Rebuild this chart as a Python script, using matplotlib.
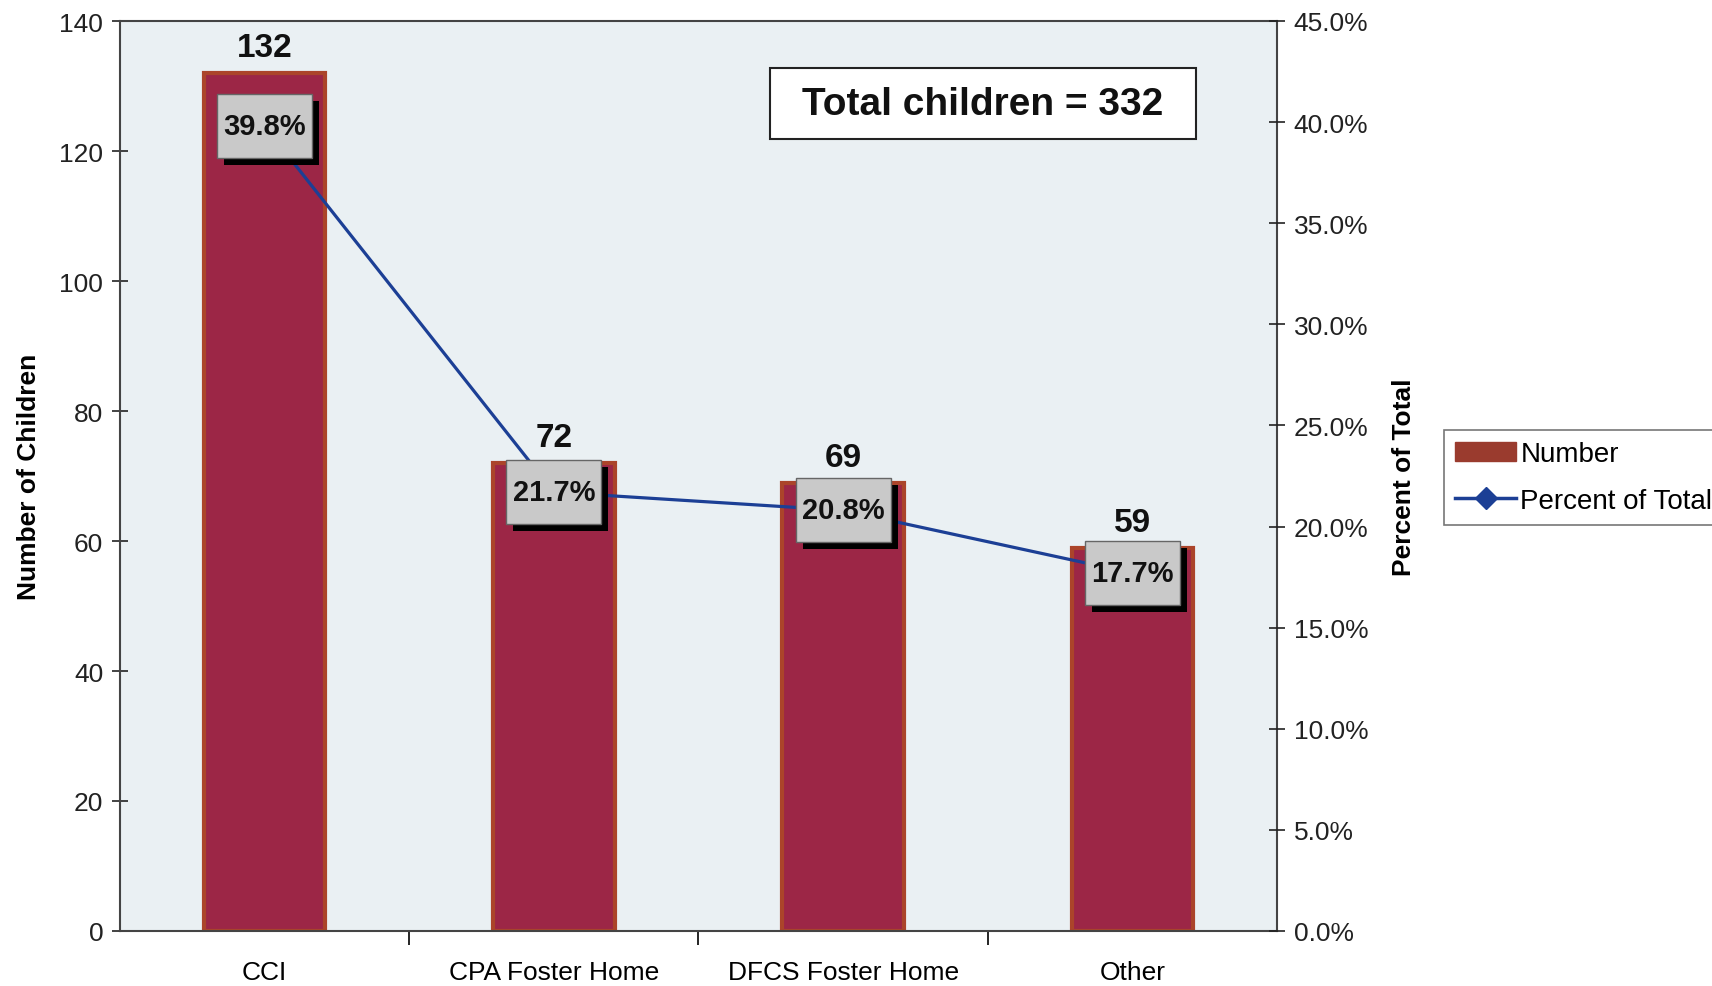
import matplotlib
matplotlib.use("Agg")
import matplotlib.pyplot as plt
from matplotlib.patches import Patch, Rectangle
from matplotlib.lines import Line2D
from matplotlib.ticker import FuncFormatter
from matplotlib.transforms import ScaledTranslation

categories = ["CCI", "CPA Foster Home", "DFCS Foster Home", "Other"]
counts = [132, 72, 69, 59]
percents = [39.8, 21.7, 20.8, 17.7]
total = 332

font = ["Liberation Sans", "DejaVu Sans"]


def main():
    fig = plt.figure(figsize=(17.12, 9.87), dpi=100)
    ax = fig.add_axes([120 / 1712, 55 / 987, 1157 / 1712, 910 / 987])
    ax.set_facecolor("#eaf0f3")

    x = list(range(len(categories)))
    ax.bar(x, counts, width=0.42, color="#9c2646", edgecolor="#ab442a",
           linewidth=3, zorder=2)
    ax.set_xlim(-0.5, 3.5)
    ax.set_ylim(0, 140)
    ax.set_yticks(range(0, 141, 20))
    ax.tick_params(axis="y", direction="inout", length=12, width=1.2,
                   labelsize=19, pad=6, colors="#222222")
    for lab in ax.get_yticklabels():
        lab.set_family(font)

    ax.set_xticks([0.5, 1.5, 2.5])
    ax.set_xticklabels([])
    ax.tick_params(axis="x", which="major", direction="out", length=10, width=1.2)
    ax.set_xticks(x, minor=True)
    ax.set_xticklabels(categories, minor=True, fontsize=19, family=font)
    ax.tick_params(axis="x", which="minor", length=0, pad=21)

    for s in ax.spines.values():
        s.set_color("#444444")
        s.set_linewidth(1.5)

    ax.set_ylabel("Number of Children", fontsize=19, fontweight="bold",
                  family=font, labelpad=13)

    for xi, c in zip(x, counts):
        ax.annotate(str(c), (xi, c), xytext=(0, 7), textcoords="offset points",
                    ha="center", va="bottom", fontsize=24, fontweight="bold",
                    family=font, color="#111111", zorder=5)

    ax2 = ax.twinx()
    ax2.set_ylim(0, 45)
    ax2.set_yticks(range(0, 46, 5))
    ax2.yaxis.set_major_formatter(FuncFormatter(lambda v, p: f"{v:.1f}%"))
    ax2.tick_params(axis="y", direction="inout", length=12, width=1.2,
                    labelsize=19, pad=6, colors="#222222")
    for lab in ax2.get_yticklabels():
        lab.set_family(font)
    for s in ax2.spines.values():
        s.set_visible(False)
    ax2.set_ylabel("Percent of Total", fontsize=19, fontweight="bold",
                   family=font, labelpad=17)

    ax2.plot(x, percents, color="#1c3f95", linewidth=2.3, marker="D",
             markersize=9, zorder=3)

    # gray label boxes (95x64 px) with a black drop shadow
    bw, bh, sh = 0.95, 0.64, 0.07
    for xi, p in zip(x, percents):
        tr = fig.dpi_scale_trans + ScaledTranslation(xi, p, ax2.transData)
        ax2.add_patch(Rectangle((-bw / 2 + sh, -bh / 2 - sh), bw, bh, transform=tr,
                                facecolor="black", edgecolor="none", zorder=6))
        ax2.add_patch(Rectangle((-bw / 2, -bh / 2), bw, bh, transform=tr,
                                facecolor="#c9c9c9", edgecolor="#666666", lw=1, zorder=7))
        ax2.text(xi, p, f"{p:.1f}%", ha="center", va="center", fontsize=21,
                 fontweight="bold", family=font, color="#111111", zorder=8)

    ax2.add_patch(Rectangle((0.562, 0.870), 0.368, 0.078, transform=ax2.transAxes,
                            facecolor="white", edgecolor="#222222", lw=1.5, zorder=8))
    ax2.text(0.746, 0.909, f"Total children = {total}", transform=ax2.transAxes,
             ha="center", va="center", fontsize=28, fontweight="bold",
             family=font, color="#111111", zorder=9)

    handles = [Patch(facecolor="#9a3b2e", edgecolor="#9a3b2e"),
               Line2D([], [], color="#1c3f95", lw=2.5, marker="D", markersize=11)]
    leg = fig.legend(handles, ["Number", "Percent of Total"], loc="upper left",
                     bbox_to_anchor=(1444 / 1712, 1 - 431 / 987), frameon=True,
                     fancybox=False, prop={"family": font, "size": 20},
                     handlelength=2.2, handletextpad=0.15, borderpad=0.4,
                     labelspacing=0.75, borderaxespad=0)
    leg.get_frame().set_edgecolor("#555555")
    leg.get_frame().set_linewidth(1.2)

    fig.savefig("out.png", dpi=100)


if __name__ == "__main__":
    main()
